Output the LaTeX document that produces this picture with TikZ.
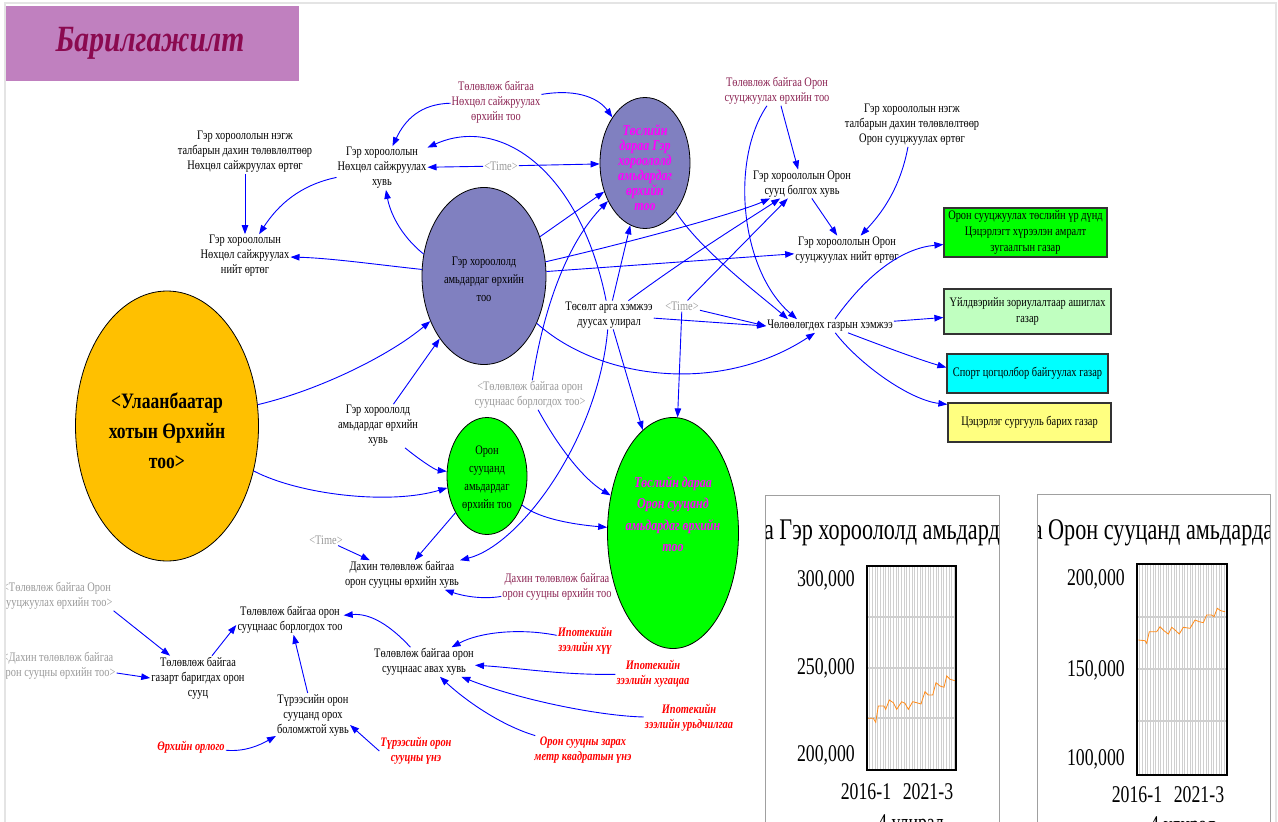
\documentclass[tikz,border=0pt]{standalone}
\usepackage{fontspec}
\setmainfont{Liberation Serif}
\newfontfamily\nf[FakeStretch=0.8]{Liberation Serif}
\newfontfamily\nfc[FakeStretch=0.74]{Liberation Serif}
\usetikzlibrary{arrows.meta,shapes.geometric}
\definecolor{titlec}{HTML}{C080BF}
\definecolor{titletxt}{HTML}{8B0A50}
\definecolor{gec}{HTML}{8080C0}
\definecolor{ubc}{HTML}{FFC000}
\definecolor{greenc}{HTML}{00FF00}
\definecolor{magtxt}{HTML}{FF00FF}
\definecolor{linkc}{HTML}{0000FF}
\definecolor{ghostc}{HTML}{999999}
\definecolor{planc}{HTML}{8B2252}
\definecolor{boxAc}{HTML}{00FF00}
\definecolor{boxBc}{HTML}{C0FFC0}
\definecolor{boxCc}{HTML}{00FFFF}
\definecolor{boxDc}{HTML}{FFFF80}
\definecolor{framec}{HTML}{E4E4E4}
\definecolor{panelc}{HTML}{A0A0A0}
\definecolor{gridc}{HTML}{CFCFCF}
\definecolor{seriesc}{HTML}{FF8C1A}
\begin{document}
\begin{tikzpicture}[x=1pt,y=-1pt,
  base/.style={align=center, inner sep=1pt, font=\nf\fontsize{13}{15}\selectfont},
  var/.style={base, text=black},
  ghost/.style={base, text=ghostc},
  plan/.style={base, text=planc},
  inpt/.style={base, text=red, font=\nf\bfseries\itshape\fontsize{13}{15}\selectfont},
  stock/.style={ellipse, draw=black, line width=0.8pt, inner sep=0pt},
  boxst/.style={draw=black!80, line width=1.2pt, align=center, inner sep=2pt, font=\nf\fontsize{13}{16}\selectfont},
  link/.style={draw=linkc, line width=0.9pt, -{Triangle[length=9pt,width=6.5pt]}},
  chartlbl/.style={inner sep=0pt, font=\nfc\fontsize{24}{24}\selectfont},
  gridv/.style={draw=gridc, line width=0.5pt},
  gridh/.style={draw=gridc, line width=1.5pt}]
\useasboundingbox (0,0) rectangle (1278,822);
\clip (0,0) rectangle (1278,822);
\fill[white] (0,0) rectangle (1278,822);
\draw[framec, line width=1.5pt] (5,830) -- (5,3) -- (1276,3) -- (1276,830);

\begin{scope}
\clip (6,4) rectangle (1275,822);

% title banner
\node[fill=titlec, minimum width=293pt, minimum height=75pt, inner sep=0pt, anchor=north west] (title) at (6,6) {};
\node[text=titletxt, inner sep=0pt, font=\nf\bfseries\itshape\fontsize{37}{37}\selectfont] (titletext) at (150,43) {Барилгажилт};

% stocks
\node[stock, fill=ubc, minimum width=183pt, minimum height=270pt] (ub) at (167,426) {};
\node[inner sep=0pt, align=center, font=\nf\bfseries\fontsize{22}{30}\selectfont] (ubtxt) at (167,431) {<Улаанбаатар\\хотын Өрхийн\\тоо>};
\node[stock, fill=gec, minimum width=124pt, minimum height=177pt] (ge) at (484,276) {};
\node[var, font=\nf\fontsize{13}{18}\selectfont] (getxt) at (484,279) {Гэр хороололд\\амьдардаг өрхийн\\тоо};
\node[stock, fill=gec, minimum width=90pt, minimum height=131pt] (tge) at (645,163) {};
\node[inner sep=0pt, align=center, text=magtxt, font=\nf\bfseries\itshape\fontsize{15}{15}\selectfont] (tgetxt) at (645,168) {Төслийн\\дараа Гэр\\хороололд\\амьдардаг\\өрхийн\\тоо};
\node[stock, fill=greenc, minimum width=80pt, minimum height=117pt] (oe) at (487,476) {};
\node[var, font=\nf\fontsize{13}{18}\selectfont] (oetxt) at (487,479) {Орон\\сууцанд\\амьдардаг\\өрхийн тоо};
\node[stock, fill=greenc, minimum width=131pt, minimum height=231pt] (toe) at (673,533) {};
\node[inner sep=0pt, align=center, text=magtxt, font=\nf\bfseries\itshape\fontsize{15}{21.5}\selectfont] (toetxt) at (673,514) {Төслийн дараа\\Орон сууцанд\\амьдардаг өрхийн\\тоо};

% land-use outcome boxes
\node[boxst, fill=boxAc, minimum width=163pt, minimum height=49pt] (boxA) at (1025.5,232.5) {Орон сууцжуулах төслийн үр дүнд\\Цэцэрлэгт хүрээлэн амралт\\зугаалгын газар};
\node[boxst, fill=boxBc, minimum width=167pt, minimum height=45pt] (boxB) at (1027.5,311.5) {Үйлдвэрийн зориулалтаар ашиглах\\газар};
\node[boxst, fill=boxCc, minimum width=161pt, minimum height=39pt] (boxC) at (1027.5,373.5) {Спорт цогцолбор байгуулах газар};
\node[boxst, fill=boxDc, minimum width=163pt, minimum height=39pt] (boxD) at (1029.5,422.5) {Цэцэрлэг сургууль барих газар};

% auxiliary variables
\node[var] (nkunit) at (245,152) {Гэр хороололын нэгж\\талбарын дахин төлөвлөлтөөр\\Нөхцөл сайжруулах өртөг};
\node[var] (nkshare) at (382,168) {Гэр хороололын\\Нөхцөл сайжруулах\\хувь};
\node[var] (nktotal) at (245,256) {Гэр хороололын\\Нөхцөл сайжруулах\\нийт өртөг};
\node[plan] (nkplan) at (496,102) {Төлөвлөж байгаа\\Нөхцөл сайжруулах\\өрхийн тоо};
\node[ghost] (timeA) at (501,166) {<Time>};
\node[plan] (osplan) at (777,91) {Төлөвлөж байгаа Орон\\сууцжуулах өрхийн тоо};
\node[var] (osunit) at (912,125) {Гэр хороололын нэгж\\талбарын дахин төлөвлөлтөөр\\Орон сууцжуулах өртөг};
\node[var] (osshare) at (802,184) {Гэр хороололын Орон\\сууц болгох хувь};
\node[var] (ostotal) at (847,250) {Гэр хороололын Орон\\сууцжуулах нийт өртөг};
\node[var] (land) at (830,326) {Чөлөөлөгдөх газрын хэмжээ};
\node[var] (projend) at (609,315) {Төсөлт арга хэмжээ\\дуусах улирал};
\node[ghost] (timeB) at (682,306) {<Time>};
\node[ghost] (soldg) at (530,395) {<Төлөвлөж байгаа орон\\сууцнаас борлогдох тоо>};
\node[var] (gershare) at (378,426) {Гэр хороололд\\амьдардаг өрхийн\\хувь};
\node[ghost] (timeC) at (326,540) {<Time>};
\node[var] (reshare) at (402,575) {Дахин төлөвлөж байгаа\\орон сууцны өрхийн хувь};
\node[plan] (renum) at (557,587) {Дахин төлөвлөж байгаа\\орон сууцны өрхийн тоо};
\node[var] (sold) at (290,620) {Төлөвлөж байгаа орон\\сууцнаас борлогдох тоо};
\node[ghost] (gplan) at (57,596) {<Төлөвлөж байгаа Орон\\сууцжуулах өрхийн тоо>};
\node[ghost] (gre) at (58,666) {<Дахин төлөвлөж байгаа\\орон сууцны өрхийн тоо>};
\node[var] (built) at (198,678) {Төлөвлөж байгаа\\газарт баригдах орон\\сууц};
\node[var] (rentshare) at (313,715) {Түрээсийн орон\\сууцанд орох\\боломжтой хувь};
\node[inpt] (income) at (191,747) {Өрхийн орлого};
\node[inpt] (rentprice) at (416,751) {Түрээсийн орон\\сууцны үнэ};
\node[var] (buy) at (424,662) {Төлөвлөж байгаа орон\\сууцнаас авах хувь};
\node[inpt] (rate) at (585,641) {Ипотекийн\\зээлийн хүү};
\node[inpt] (term) at (653,674) {Ипотекийн\\зээлийн хугацаа};
\node[inpt] (down) at (689,718) {Ипотекийн\\зээлийн урьдчилгаа};
\node[inpt] (price) at (583,750) {Орон сууцны зарах\\метр квадратын үнэ};

% causal links
\draw[link] (nkunit) -- (nktotal);
\draw[link] (nkshare) .. controls (300,185) and (278,205) .. (nktotal);
\draw[link] (ge) .. controls (380,265) and (330,258) .. (nktotal);
\draw[link] (ge.160) .. controls (400,235) and (390,212) .. (nkshare);
\draw[link] (nkplan) .. controls (420,104) and (405,120) .. (nkshare);
\draw[link] (nkplan) .. controls (580,88) and (600,100) .. (tge);
\draw[link] (timeA) -- (nkshare);
\draw[link] (timeA) -- (tge);
\draw[link] (projend) .. controls (580,170) and (500,115) .. (nkshare);
\draw[link] (projend) -- (tge);
\draw[link] (ge) -- (tge);
\draw[link] (soldg) .. controls (545,300) and (570,240) .. (tge);
\draw[link] (ge) .. controls (640,240) and (740,212) .. (osshare);
\draw[link] (projend) .. controls (690,255) and (755,215) .. (osshare);
\draw[link] (timeB) -- (osshare);
\draw[link] (osplan) -- (osshare);
\draw[link] (ge) -- (ostotal);
\draw[link] (osshare) -- (ostotal);
\draw[link] (osunit) .. controls (900,190) and (880,215) .. (ostotal);
\draw[link] (tge) .. controls (700,250) and (760,295) .. ([xshift=-42pt]land.north);
\draw[link] (osplan) .. controls (730,160) and (740,270) .. ([xshift=-33pt]land.north);
\draw[link] (projend) -- (land.west);
\draw[link] (timeB) -- (land.west);
\draw[link] (ge) .. controls (600,380) and (720,395) .. ([xshift=-15pt]land.south);
\draw[link] (land) .. controls (870,270) and (905,248) .. ([yshift=-12pt]boxA.west);
\draw[link] (land) -- ([yshift=-6pt]boxB.west);
\draw[link] (land) .. controls (880,345) and (920,360) .. ([yshift=6pt]boxC.west);
\draw[link] (land) .. controls (860,365) and (910,400) .. ([yshift=-2pt]boxD.north west);
\draw[link] (ub) .. controls (320,390) and (390,355) .. (ge);
\draw[link] (ub) .. controls (300,495) and (390,505) .. (oe);
\draw[link] (gershare) -- (ge);
\draw[link] (gershare) .. controls (420,460) and (435,470) .. (oe);
\draw[link] (oe) -- (reshare);
\draw[link] (oe) .. controls (540,520) and (580,525) .. (toe);
\draw[link] (timeC) -- (reshare);
\draw[link] (renum) .. controls (480,600) and (460,595) .. (reshare);
\draw[link] (projend) .. controls (598,440) and (520,545) .. (reshare);
\draw[link] (projend) -- (toe);
\draw[link] (timeB) -- (toe);
\draw[link] (soldg) .. controls (560,450) and (585,480) .. (toe);
\draw[link] (gplan.south east) -- (built);
\draw[link] ([yshift=-7pt]gre.east) -- (built.west);
\draw[link] ([xshift=14pt]built.north) -- ([yshift=-5pt]sold.west);
\draw[link] (rentshare) -- (sold);
\draw[link] (income) .. controls (245,752) and (260,745) .. (rentshare);
\draw[link] (rentprice.west) -- ([yshift=-10pt]rentshare.east);
\draw[link] (buy) .. controls (390,625) and (370,613) .. (sold);
\draw[link] (rate) .. controls (520,628) and (480,632) .. (buy);
\draw[link] (term) .. controls (560,675) and (520,668) .. (buy);
\draw[link] (down) .. controls (600,716) and (520,700) .. (buy);
\draw[link] (price) .. controls (500,725) and (465,700) .. (buy);

% chart panel: households in ger districts
\draw[panelc, line width=1pt] (765,830) -- (765,495) -- (999,495) -- (999,830);
\begin{scope}
\clip (766,496) rectangle (998,822);
\node[chartlbl, font=\nfc\fontsize{30}{30}\selectfont] (chAtitle) at (882,533) {а Гэр хороололд амьдард};
\end{scope}
\foreach \i in {0,...,32} \draw[gridv] ({869.5+\i*2.65},566) -- ++(0,204);
\foreach \yy in {617,668,718} \draw[gridh] (867,\yy) -- (956,\yy);
\draw[seriesc, line width=0.8pt] plot coordinates {(867.3,718.3) (873.3,718.3) (875.7,722.3) (878.3,706) (884,706) (885.7,709.3) (889.3,700) (893.3,702.7) (896.7,709.3) (901.7,701.7) (905,703.3) (908.3,709.3) (912.7,701.7) (916.7,702.7) (921,704) (925,691.7) (928.3,695) (932.7,695) (936,682.7) (940,686) (944,687.3) (946.7,676) (950,679.3) (955,680.7)};
\draw[black, line width=2pt] (867,566) rectangle (956,770);
\node[chartlbl, anchor=east] (chAy1) at (855,580) {300,000};
\node[chartlbl, anchor=east] (chAy2) at (855,668) {250,000};
\node[chartlbl, anchor=east] (chAy3) at (855,755) {200,000};
\node[chartlbl] (chAx1) at (866,792) {2016-1};
\node[chartlbl] (chAx2) at (928,792) {2021-3};
\node[chartlbl] (chAxt) at (911,825) {4 улирал};

% chart panel: households in apartments
\draw[panelc, line width=1pt] (1037,830) -- (1037,494) -- (1270,494) -- (1270,830);
\begin{scope}
\clip (1038,495) rectangle (1269,822);
\node[chartlbl, font=\nfc\fontsize{30}{30}\selectfont] (chBtitle) at (1153,533) {а Орон сууцанд амьдарда};
\end{scope}
\foreach \i in {0,...,33} \draw[gridv] ({1139.5+\i*2.65},564) -- ++(0,211);
\foreach \yy in {617,669,721} \draw[gridh] (1137,\yy) -- (1227,\yy);
\draw[seriesc, line width=0.8pt] plot coordinates {(1138.3,640) (1145,640.7) (1146.7,643.3) (1149.3,631.7) (1156.7,631.7) (1160,626.7) (1164,630.7) (1168.3,634) (1171.7,627.3) (1175,630) (1179.3,634) (1183.3,627.3) (1190,628.3) (1195,620) (1199.3,621.7) (1203.3,622.7) (1206.7,615) (1211.7,615) (1214,616.7) (1217.3,608.3) (1220.7,610.7) (1225,611.7)};
\draw[black, line width=2pt] (1137,564) rectangle (1227,775);
\node[chartlbl, anchor=east] (chBy1) at (1125,579) {200,000};
\node[chartlbl, anchor=east] (chBy2) at (1125,670) {150,000};
\node[chartlbl, anchor=east] (chBy3) at (1125,759) {100,000};
\node[chartlbl] (chBx1) at (1137,795) {2016-1};
\node[chartlbl] (chBx2) at (1199,795) {2021-3};
\node[chartlbl] (chBxt) at (1183,827) {4 улирал};
\end{scope}
\end{tikzpicture}
\end{document}
